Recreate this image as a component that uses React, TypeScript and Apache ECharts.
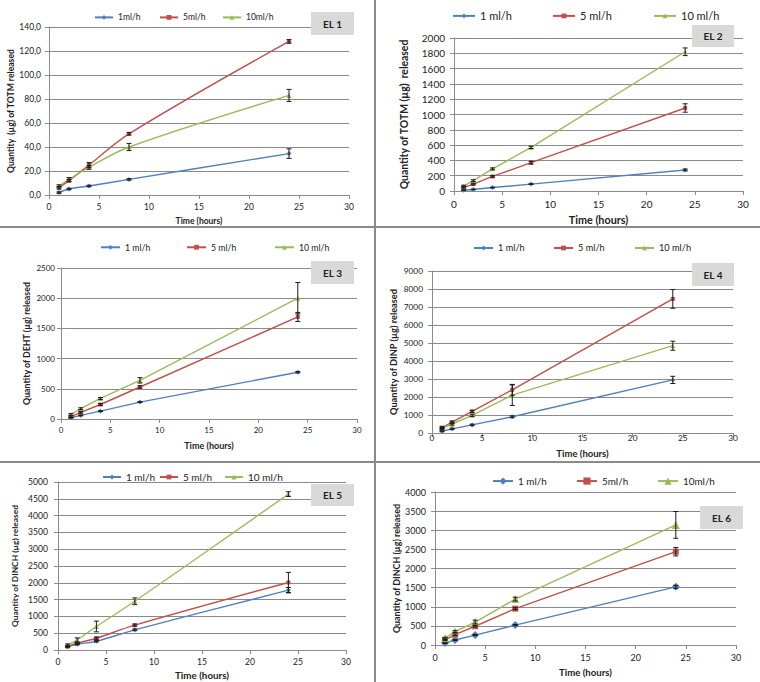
import React, { useEffect, useRef } from 'react';
import * as echarts from 'echarts';

// ---------- data ----------
const timeHours = [1, 2, 4, 8, 24];

// EL 1 — TOTM
const el1Names = ['1ml/h', '5ml/h', '10ml/h'];
const el1Rate1 = [2, 5, 7.5, 13, 34.5];
const el1Rate5 = [6, 12, 25, 51, 128];
const el1Rate10 = [7.5, 13, 23, 40, 83];
const el1Err1 = [0.6, 0.6, 0.6, 0.6, 4];
const el1Err5 = [1, 1, 2, 1, 1.5];
const el1Err10 = [1, 1.5, 1.5, 3, 5];

// EL 2 — TOTM
const el2Names = ['1 ml/h', '5 ml/h', '10 ml/h'];
const el2Rate1 = [10, 20, 45, 90, 275];
const el2Rate5 = [45, 90, 190, 370, 1085];
const el2Rate10 = [65, 135, 290, 570, 1820];
const el2Err1 = [4, 4, 4, 4, 12];
const el2Err5 = [8, 10, 10, 18, 55];
const el2Err10 = [10, 12, 12, 15, 50];

// EL 3 — DEHT
const el3Names = ['1 ml/h', '5 ml/h', '10 ml/h'];
const el3Rate1 = [20, 60, 130, 280, 775];
const el3Rate5 = [40, 110, 240, 530, 1690];
const el3Rate10 = [75, 170, 340, 640, 2000];
const el3Err1 = [5, 6, 6, 6, 10];
const el3Err5 = [10, 12, 15, 20, 75];
const el3Err10 = [15, 15, 15, 45, 260];

// EL 4 — DINP
const el4Names = ['1 ml/h', '5 ml/h', '10 ml/h'];
const el4Rate1 = [100, 230, 450, 900, 2950];
const el4Rate5 = [300, 600, 1200, 2400, 7450];
const el4Rate10 = [250, 500, 980, 2100, 4850];
const el4Err1 = [30, 40, 40, 50, 200];
const el4Err5 = [50, 60, 60, 300, 520];
const el4Err10 = [50, 60, 60, 570, 250];

// EL 5 — DINCH
const el5Names = ['1 ml/h', '5 ml/h', '10 ml/h'];
const el5Rate1 = [100, 170, 260, 600, 1780];
const el5Rate5 = [100, 200, 350, 740, 2010];
const el5Rate10 = [150, 300, 700, 1450, 4640];
const el5Err1 = [15, 15, 20, 25, 80];
const el5Err5 = [15, 20, 30, 30, 300];
const el5Err10 = [30, 60, 160, 100, 70];

// EL 6 — DINCH
const el6Names = ['1 ml/h', '5ml/h', '10ml/h'];
const el6Rate1 = [50, 130, 260, 520, 1520];
const el6Rate5 = [130, 270, 490, 950, 2440];
const el6Rate10 = [180, 350, 600, 1200, 3140];
const el6Err1 = [10, 10, 15, 15, 40];
const el6Err5 = [15, 20, 20, 25, 110];
const el6Err10 = [20, 25, 50, 50, 350];

const panelTitles = ['EL 1', 'EL 2', 'EL 3', 'EL 4', 'EL 5', 'EL 6'];
const yTitles = [
  'Quantity  (µg) of TOTM released',
  'Quantity of TOTM (µg)  released',
  'Quantity of DEHT (µg) released',
  'Quantity of DINP (µg) released',
  'Quantity of DINCH (µg) released',
  'Quantity of DINCH (µg) released',
];
const xTitle = 'Time (hours)';
const yMaxes = [140, 2000, 2500, 9000, 5000, 4000];
const yIntervals = [20, 200, 500, 1000, 500, 500];

const panelData = [
  { names: el1Names, vals: [el1Rate1, el1Rate5, el1Rate10], errs: [el1Err1, el1Err5, el1Err10] },
  { names: el2Names, vals: [el2Rate1, el2Rate5, el2Rate10], errs: [el2Err1, el2Err5, el2Err10] },
  { names: el3Names, vals: [el3Rate1, el3Rate5, el3Rate10], errs: [el3Err1, el3Err5, el3Err10] },
  { names: el4Names, vals: [el4Rate1, el4Rate5, el4Rate10], errs: [el4Err1, el4Err5, el4Err10] },
  { names: el5Names, vals: [el5Rate1, el5Rate5, el5Rate10], errs: [el5Err1, el5Err5, el5Err10] },
  { names: el6Names, vals: [el6Rate1, el6Rate5, el6Rate10], errs: [el6Err1, el6Err5, el6Err10] },
];

// ---------- layout / style ----------
const COLORS = ['#4F81BD', '#C0504D', '#9BBB59'];
const SYMBOLS = ['diamond', 'rect', 'triangle'];
const FONT = 'Lato';
const GRAY = '#8a8a8a';

const layouts = [
  { l: 49, t: 27, w: 300, h: 168, tickFs: 8.5, xFs: 8.5, yFs: 8.6, xGap: 21, yGap: 33.5, xM: 7, yM: 8, lgY: 18, lgText: [117, 182, 245], lgW: 18, lgFs: 8.5, sym: [5, 4, 5], lgH: 6, box: [311, 12, 43, 23], smooth: true },
  { l: 454, t: 38, w: 289, h: 153, tickFs: 10, xFs: 10.8, yFs: 10.4, xGap: 23, yGap: 45, xM: 8, yM: 9, lgY: 17, lgText: [479, 579, 680], lgW: 22, lgFs: 11, sym: [5, 4, 5], lgH: 6, box: [692, 25, 42, 22], smooth: false },
  { l: 61, t: 268, w: 296, h: 151, tickFs: 8, xFs: 9, yFs: 8.8, xGap: 22, yGap: 30.5, xM: 7, yM: 6, lgY: 248, lgText: [124, 210, 298], lgW: 19, lgFs: 8.7, sym: [5, 4, 5], lgH: 6, box: [311, 261, 43, 23], smooth: false },
  { l: 432, t: 271, w: 301, h: 162, tickFs: 8.3, xFs: 9.5, yFs: 9.2, xGap: 15, yGap: 33.8, xM: 1, yM: 9, lgY: 249, lgText: [497, 577, 658], lgW: 19, lgFs: 9.2, sym: [5, 4, 5], lgH: 6, box: [692, 263, 42, 23], smooth: false },
  { l: 58, t: 482, w: 288, h: 168, tickFs: 8.6, xFs: 9.8, yFs: 8.4, xGap: 20, yGap: 39, xM: 7, yM: 10, lgY: 478, lgText: [125, 182, 247], lgW: 18, lgFs: 10, sym: [5, 4, 5], lgH: 6, box: [311, 484, 43, 22], smooth: true },
  { l: 435, t: 492, w: 301, h: 153, tickFs: 9, xFs: 9.6, yFs: 8.9, xGap: 22, yGap: 31.5, xM: 8, yM: 9, lgY: 482, lgText: [517, 601, 682], lgW: 20, lgFs: 9.9, sym: [8, 6, 8], lgH: 9, box: [700, 506, 43, 23], smooth: false },
];

const errRender = (params: any, api: any) => {
  const x = api.value(0);
  const y = api.value(1);
  const e = api.value(2);
  if (!e) return null;
  const hi = api.coord([x, y + e]);
  const lo = api.coord([x, y - e]);
  const w = 2.5;
  const st = { stroke: '#1a1a1a', lineWidth: 1 };
  return {
    type: 'group',
    children: [
      { type: 'line', shape: { x1: hi[0], y1: hi[1], x2: lo[0], y2: lo[1] }, style: st },
      { type: 'line', shape: { x1: hi[0] - w, y1: hi[1], x2: hi[0] + w, y2: hi[1] }, style: st },
      { type: 'line', shape: { x1: lo[0] - w, y1: lo[1], x2: lo[0] + w, y2: lo[1] }, style: st },
    ],
  };
};

function buildOption() {
  const grid: any[] = [];
  const xAxis: any[] = [];
  const yAxis: any[] = [];
  const series: any[] = [];
  const legend: any[] = [];
  const graphic: any[] = [];

  layouts.forEach((L, p) => {
    const D = panelData[p];
    grid.push({ left: L.l, top: L.t, width: L.w, height: L.h, containLabel: false });
    xAxis.push({
      type: 'value', gridIndex: p, min: 0, max: 30, interval: 5,
      name: xTitle, nameLocation: 'middle', nameGap: L.xGap,
      nameTextStyle: { fontFamily: FONT, fontWeight: 'bold', fontSize: L.xFs, color: '#222' },
      axisLine: { show: true, onZero: false, lineStyle: { color: GRAY, width: 1 } },
      axisTick: { show: true, length: 4, lineStyle: { color: GRAY } },
      axisLabel: { fontFamily: FONT, fontSize: L.tickFs, color: '#222', margin: L.xM, formatter: (v: number) => String(v) },
      splitLine: { show: false },
    });
    yAxis.push({
      type: 'value', gridIndex: p, min: 0, max: yMaxes[p], interval: yIntervals[p],
      name: yTitles[p], nameLocation: 'middle', nameGap: L.yGap,
      nameTextStyle: { fontFamily: FONT, fontWeight: 'bold', fontSize: L.yFs, color: '#222' },
      axisLine: { show: true, lineStyle: { color: GRAY, width: 1 } },
      axisTick: { show: true, length: 4, lineStyle: { color: GRAY } },
      axisLabel: {
        fontFamily: FONT, fontSize: L.tickFs, color: '#222', margin: L.yM,
        formatter: p === 0 ? (v: number) => v.toFixed(1).replace('.', ',') : (v: number) => String(v),
      },
      splitLine: { show: true, lineStyle: { color: GRAY, width: 1 } },
    });
    for (let s = 0; s < 3; s++) {
      const id = `P${p + 1}|${D.names[s]}`;
      series.push({
        type: 'line', name: id, xAxisIndex: p, yAxisIndex: p,
        data: timeHours.map((t, i) => [t, D.vals[s][i]]),
        smooth: L.smooth ? 0.35 : false,
        symbol: SYMBOLS[s], symbolSize: L.sym[s], showSymbol: true,
        itemStyle: { color: COLORS[s] },
        lineStyle: { color: COLORS[s], width: 1.4 },
        z: 3,
      });
      series.push({
        type: 'custom', name: `err${p}${s}`, xAxisIndex: p, yAxisIndex: p,
        data: timeHours.map((t, i) => [t, D.vals[s][i], D.errs[s][i]]),
        encode: { x: 0, y: 1 },
        renderItem: errRender, silent: true, z: 4,
      });
      const fs = L.lgFs;
      legend.push({
        data: [id], formatter: (n: string) => n.split('|')[1],
        left: L.lgText[s] - 5 - L.lgW, top: L.lgY - Math.max(L.lgH, fs * 1.2) / 2,
        padding: 0, itemWidth: L.lgW, itemHeight: L.lgH, selectedMode: false,
        textStyle: { fontFamily: FONT, fontSize: fs, color: '#222' },
      });
    }
    const [bx, by, bw, bh] = L.box;
    graphic.push({ type: 'rect', z: 100, shape: { x: bx, y: by, width: bw, height: bh }, style: { fill: '#d9d9d9' } });
    graphic.push({
      type: 'text', z: 101, x: bx + bw / 2, y: by + bh / 2,
      style: { text: panelTitles[p], fontFamily: FONT, fontWeight: 'bold', fontSize: 10, fill: '#222', align: 'center', verticalAlign: 'middle' },
    });
  });

  graphic.push({ type: 'line', z: 100, shape: { x1: 375, y1: 0, x2: 375, y2: 682 }, style: { stroke: GRAY, lineWidth: 2 } });
  graphic.push({ type: 'line', z: 100, shape: { x1: 0, y1: 227, x2: 760, y2: 227 }, style: { stroke: GRAY, lineWidth: 2 } });
  graphic.push({ type: 'line', z: 100, shape: { x1: 0, y1: 462, x2: 760, y2: 462 }, style: { stroke: GRAY, lineWidth: 2 } });

  return { animation: false, backgroundColor: '#ffffff', grid, xAxis, yAxis, series, legend, graphic };
}

export default function App() {
  const ref = useRef<HTMLDivElement>(null);
  useEffect(() => {
    if (!ref.current) return;
    const chart = echarts.init(ref.current, undefined, { renderer: 'svg' });
    chart.setOption(buildOption() as any);
    return () => chart.dispose();
  }, []);
  return (
    <div
      ref={ref}
      style={{ position: 'fixed', left: 0, top: 0, width: 760, height: 682, background: '#fff' }}
    />
  );
}
